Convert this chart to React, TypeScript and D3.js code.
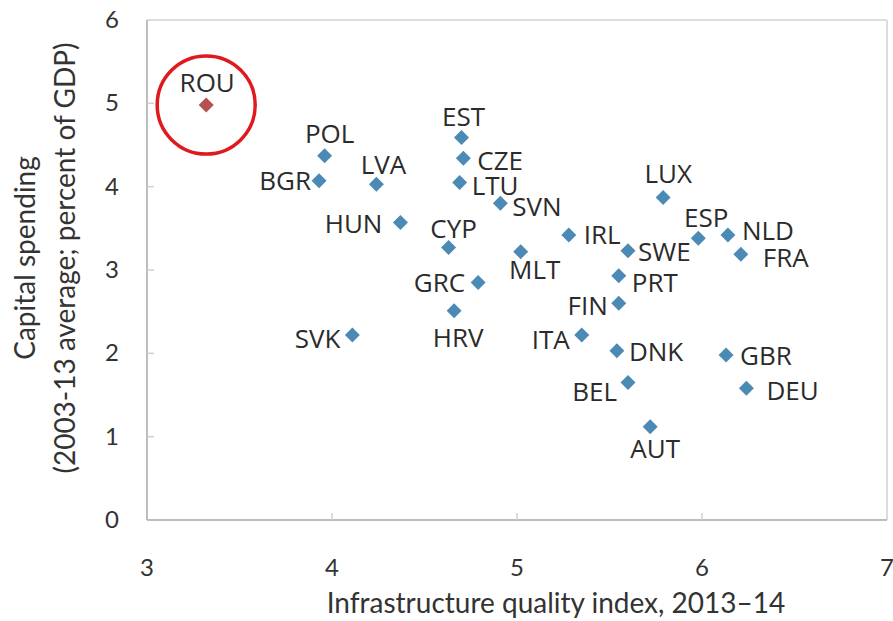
import * as d3 from "d3";

const WIDTH = 893;
const HEIGHT = 621;
const MARGIN = { top: 20, right: 6, bottom: 101, left: 147 };

// country codes, infrastructure index (x) and capital spending (y)
const CODES = [
  "ROU", "POL", "BGR", "LVA", "HUN", "EST", "CZE", "LTU", "SVN", "CYP",
  "MLT", "IRL", "GRC", "HRV", "SVK", "ITA", "FIN", "PRT", "SWE", "LUX",
  "ESP", "NLD", "FRA", "DNK", "GBR", "DEU", "BEL", "AUT",
];
const X_VALUES = [
  3.32, 3.96, 3.93, 4.24, 4.37, 4.70, 4.71, 4.69, 4.91, 4.63,
  5.02, 5.28, 4.79, 4.66, 4.11, 5.35, 5.55, 5.55, 5.60, 5.79,
  5.98, 6.14, 6.21, 5.54, 6.13, 6.24, 5.60, 5.72,
];
const Y_VALUES = [
  4.98, 4.37, 4.07, 4.03, 3.57, 4.59, 4.34, 4.05, 3.80, 3.27,
  3.22, 3.42, 2.85, 2.51, 2.22, 2.22, 2.60, 2.93, 3.23, 3.87,
  3.38, 3.42, 3.19, 2.03, 1.98, 1.58, 1.65, 1.12,
];
const HIGHLIGHT = "ROU";

const X_TICKS = [3, 4, 5, 6, 7];
const Y_TICKS = [0, 1, 2, 3, 4, 5, 6];
const X_TITLE = "Infrastructure quality index, 2013\u201314";
const Y_TITLE = ["Capital spending", "(2003-13 average; percent of GDP)"];

// label side (t/b/l/r) and pixel nudge [dx, baseline dy]
const LABEL_PLACE: Record<string, [string, number, number]> = {
  ROU: ["t", 1, -13], POL: ["t", 5, -13], BGR: ["l", -8, 9], LVA: ["t", 7, -10],
  HUN: ["l", -18, 10], EST: ["t", 2, -12], CZE: ["r", 14, 12], LTU: ["r", 12, 12],
  SVN: ["r", 12, 13], CYP: ["t", 5, -10], MLT: ["b", 14, 27], IRL: ["r", 15, 9],
  GRC: ["l", -13, 9], HRV: ["b", 4, 36], SVK: ["l", -12, 13], ITA: ["l", -12, 14],
  FIN: ["l", -11, 12], PRT: ["r", 13, 16], SWE: ["r", 10, 10], LUX: ["t", 5, -15],
  ESP: ["t", 8, -11], NLD: ["r", 14, 5], FRA: ["r", 22, 13], DNK: ["r", 12, 10],
  GBR: ["r", 14, 10], DEU: ["r", 20, 12], BEL: ["l", -11, 18], AUT: ["b", 5, 31],
};

const AXIS_FONT = "Lato, 'Open Sans', sans-serif";
const LABEL_FONT = "'Open Sans', 'Noto Sans', sans-serif";

export default function App() {
  const innerW = WIDTH - MARGIN.left - MARGIN.right;
  const innerH = HEIGHT - MARGIN.top - MARGIN.bottom;

  const xScale = d3.scaleLinear().domain([3, 7]).range([0, innerW]);
  const yScale = d3.scaleLinear().domain([0, 6]).range([innerH, 0]);

  const diamond = d3.symbol().type(d3.symbolSquare).size(112)();

  const points = CODES.map((code, i) => ({ code, x: X_VALUES[i], y: Y_VALUES[i] }));
  const rou = points.find((p) => p.code === HIGHLIGHT)!;

  return (
    <svg
      width={WIDTH}
      height={HEIGHT}
      style={{ position: "absolute", left: 0, top: 0, background: "#fff" }}
    >
      <g transform={`translate(${MARGIN.left},${MARGIN.top})`}>
        {/* frame */}
        <line x1={0} x2={innerW} y1={0} y2={0} stroke="#dcdcdc" strokeWidth={2} />
        <line x1={innerW} x2={innerW} y1={0} y2={innerH} stroke="#dcdcdc" strokeWidth={2} />
        <line x1={0} x2={innerW} y1={innerH} y2={innerH} stroke="#bdbdbd" strokeWidth={2} />
        <line x1={0} x2={0} y1={0} y2={innerH} stroke="#bdbdbd" strokeWidth={2} />

        {/* ticks */}
        {X_TICKS.slice(1, -1).map((t) => (
          <line key={"xt" + t} x1={xScale(t)} x2={xScale(t)} y1={innerH} y2={innerH - 7} stroke="#d0d0d0" strokeWidth={1.5} />
        ))}
        {Y_TICKS.slice(1, -1).map((t) => (
          <line key={"yt" + t} x1={0} x2={7} y1={yScale(t)} y2={yScale(t)} stroke="#d0d0d0" strokeWidth={1.5} />
        ))}

        {/* tick labels */}
        {X_TICKS.map((t) => (
          <text key={"xl" + t} x={xScale(t)} y={innerH + 56} textAnchor="middle" fontFamily={AXIS_FONT} fontSize={24} fill="#333">
            {t}
          </text>
        ))}
        {Y_TICKS.map((t) => (
          <text key={"yl" + t} x={-28} y={yScale(t) + 8} textAnchor="end" fontFamily={AXIS_FONT} fontSize={24} fill="#333">
            {t}
          </text>
        ))}

        {/* axis titles */}
        <text x={innerW / 2 + 39} y={innerH + 93} textAnchor="middle" fontFamily={AXIS_FONT} fontSize={28} fill="#333">
          {X_TITLE}
        </text>
        {Y_TITLE.map((line, i) => (
          <text
            key={line}
            transform={`translate(${-112 + i * 40},${innerH / 2 - 12}) rotate(-90)`}
            textAnchor="middle"
            fontFamily={AXIS_FONT}
            fontSize={28}
            fill="#333"
          >
            {line}
          </text>
        ))}

        {/* highlight ring */}
        <circle cx={xScale(rou.x)} cy={yScale(rou.y)} r={49} fill="none" stroke="#e0191f" strokeWidth={3.5} />

        {/* points */}
        {points.map((p) => (
          <path
            key={p.code}
            d={diamond}
            transform={`translate(${xScale(p.x)},${yScale(p.y)}) rotate(45)`}
            fill={p.code === HIGHLIGHT ? "#b5514f" : "#4a8ab4"}
          />
        ))}

        {/* labels */}
        {points.map((p) => {
          const [side, dx, dy] = LABEL_PLACE[p.code];
          const anchor = side === "l" ? "end" : side === "r" ? "start" : "middle";
          return (
            <text
              key={"lab" + p.code}
              x={xScale(p.x) + dx}
              y={yScale(p.y) + dy}
              textAnchor={anchor}
              fontFamily={LABEL_FONT}
              fontSize={26}
              fill="#2b2b2b"
            >
              {p.code}
            </text>
          );
        })}
      </g>
    </svg>
  );
}
